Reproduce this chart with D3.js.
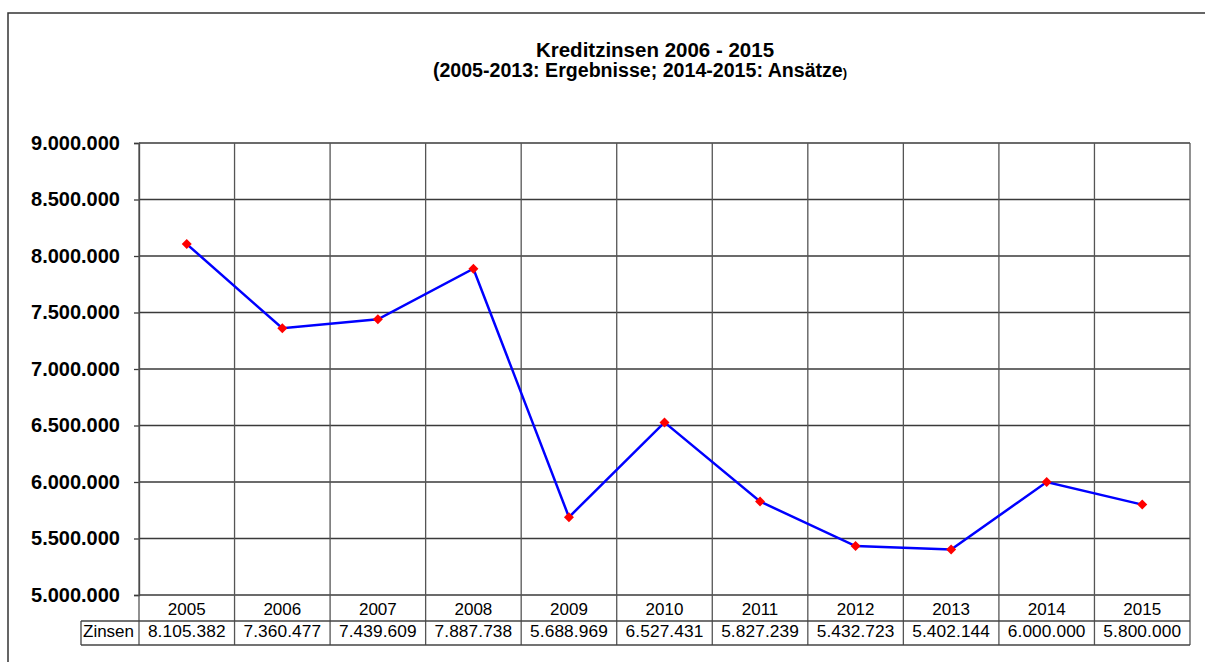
<!DOCTYPE html>
<html>
<head>
<meta charset="utf-8">
<script src="https://cdn.jsdelivr.net/npm/d3@7"></script>
<style>
html,body{margin:0;padding:0;background:#fff;}
svg{display:block;font-family:"Liberation Sans",Arial,sans-serif;}
</style>
</head>
<body>
<svg id="chart" width="1205" height="662"></svg>
<script>
const years = ["2005","2006","2007","2008","2009","2010","2011","2012","2013","2014","2015"];
const zinsen = [8105382, 7360477, 7439609, 7887738, 5688969, 6527431, 5827239, 5432723, 5402144, 6000000, 5800000];
const yTicks = [5000000, 5500000, 6000000, 6500000, 7000000, 7500000, 8000000, 8500000, 9000000];
const titleLine1 = "Kreditzinsen 2006 - 2015";
const titleLine2 = "(2005-2013: Ergebnisse; 2014-2015: Ansätze";
const seriesName = "Zinsen";

const svg = d3.select("#chart");
const loc = d3.formatLocale({decimal: ",", thousands: ".", grouping: [3], currency: ["", "€"]});
const fmt = loc.format(",d");

const L = 139, R = 1190, T = 143, B = 595;
const x = d3.scaleBand().domain(years).range([L, R]);
const y = d3.scaleLinear().domain([5000000, 9000000]).range([B, T]);

// outer frame
svg.append("path").attr("d", "M8,662 L8,13 L1205,13")
  .attr("fill", "none").attr("stroke", "#333").attr("stroke-width", 1.5);

// title
const title = svg.append("g").attr("font-weight", "bold").attr("fill", "#000").attr("text-anchor", "middle");
title.append("text").attr("x", 655).attr("y", 57).attr("font-size", 20.5).text(titleLine1);
const t2 = title.append("text").attr("x", 640).attr("y", 77).attr("font-size", 19.6);
t2.append("tspan").text(titleLine2);
t2.append("tspan").attr("font-size", 13).text(")");

// horizontal grid
svg.append("g").selectAll("line").data(yTicks).join("line")
  .attr("x1", L).attr("x2", R)
  .attr("y1", d => y(d)).attr("y2", d => y(d))
  .attr("stroke", "#3a3a3a").attr("stroke-width", 1.3);

// y axis
const yAxis = svg.append("g").attr("transform", `translate(${L},0)`)
  .call(d3.axisLeft(y).tickValues(yTicks).tickFormat(fmt).tickSize(5).tickPadding(14));
yAxis.select(".domain").attr("stroke", "#3a3a3a").attr("stroke-width", 1.3);
yAxis.selectAll(".tick line").attr("stroke", "#3a3a3a").attr("stroke-width", 1.3);
yAxis.selectAll("text").attr("font-size", 20).attr("font-weight", "bold")
  .attr("fill", "#000").attr("font-family", "Liberation Sans, Arial, sans-serif");

// vertical grid (category boundaries) extending through table
const bounds = years.map(d => x(d)).concat([R]);
svg.append("g").selectAll("line").data(bounds).join("line")
  .attr("x1", d => d).attr("x2", d => d)
  .attr("y1", T).attr("y2", 645)
  .attr("stroke", "#555").attr("stroke-width", 1.3);

// table lines
const tbl = svg.append("g").attr("stroke", "#444").attr("stroke-width", 1.3);
tbl.append("line").attr("x1", 81).attr("x2", R).attr("y1", 621).attr("y2", 621);
tbl.append("line").attr("x1", 81).attr("x2", R).attr("y1", 645).attr("y2", 645);
tbl.append("line").attr("x1", 81).attr("x2", 81).attr("y1", 621).attr("y2", 645);

// year labels
svg.append("g").selectAll("text").data(years).join("text")
  .attr("x", d => x(d) + x.bandwidth() / 2).attr("y", 615)
  .attr("text-anchor", "middle").attr("font-size", 17).attr("fill", "#000")
  .text(d => d);

// table values
svg.append("text").attr("x", 83).attr("y", 637).attr("font-size", 17).attr("fill", "#000").text(seriesName);
svg.append("g").selectAll("text").data(zinsen).join("text")
  .attr("x", (d, i) => x(years[i]) + x.bandwidth() / 2).attr("y", 637)
  .attr("text-anchor", "middle").attr("font-size", 17.3).attr("letter-spacing", 0.1).attr("fill", "#000")
  .text(d => fmt(d));

// line
const line = d3.line().x((d, i) => x(years[i]) + x.bandwidth() / 2).y(d => y(d));
svg.append("path").datum(zinsen).attr("d", line)
  .attr("fill", "none").attr("stroke", "#0000ff").attr("stroke-width", 2.5);

// markers
svg.append("g").selectAll("path").data(zinsen).join("path")
  .attr("transform", (d, i) => `translate(${x(years[i]) + x.bandwidth() / 2},${y(d)})`)
  .attr("d", "M0,-5 L5,0 L0,5 L-5,0 Z")
  .attr("fill", "#ff0000");
</script>
</body>
</html>
